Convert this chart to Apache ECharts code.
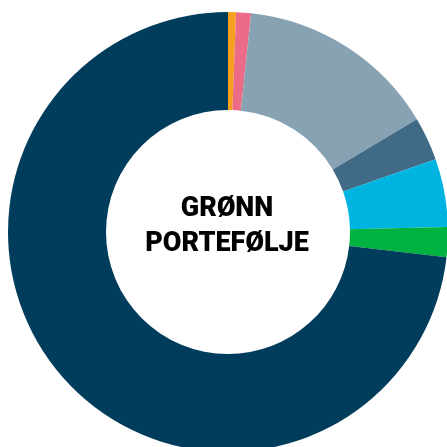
<!DOCTYPE html>
<html>
<head>
<meta charset="utf-8">
<script src="https://cdn.jsdelivr.net/npm/echarts@6/dist/echarts.min.js"></script>
<style>
  html, body { margin: 0; padding: 0; background: #fff; }
  #chart { width: 447px; height: 447px; }
</style>
</head>
<body>
<div id="chart"></div>
<script>
// andeler i porteføljen (prosent), med klokka fra toppen
const categories = ['A', 'B', 'C', 'D', 'E', 'F', 'G']
const values = [0.58, 1.1, 14.75, 3.2, 5.0, 2.2, 73.17]
const colors = ['#f5a01e', '#ec6b86', '#87a2b2', '#416a86', '#00b4e2', '#00b240', '#003c5c']

const chart = echarts.init(document.getElementById('chart'))

const option = {
  animation: false,
  graphic: [
    {
      type: 'text',
      x: 227,
      y: 192,
      style: {
        text: 'GRØNN\nPORTEFØLJE',
        fill: '#000',
        font: '900 27px Roboto',
        textAlign: 'center',
        lineHeight: 35
      }
    }
  ],
  series: [
    {
      type: 'pie',
      center: [228, 232],
      radius: [122, 220],
      startAngle: 90,
      clockwise: true,
      label: { show: false },
      labelLine: { show: false },
      emphasis: { disabled: true },
      itemStyle: { borderWidth: 0 },
      data: categories.map((c, i) => ({
        name: c,
        value: values[i],
        itemStyle: { color: colors[i] }
      }))
    }
  ]
}

chart.setOption(option)
</script>
</body>
</html>
